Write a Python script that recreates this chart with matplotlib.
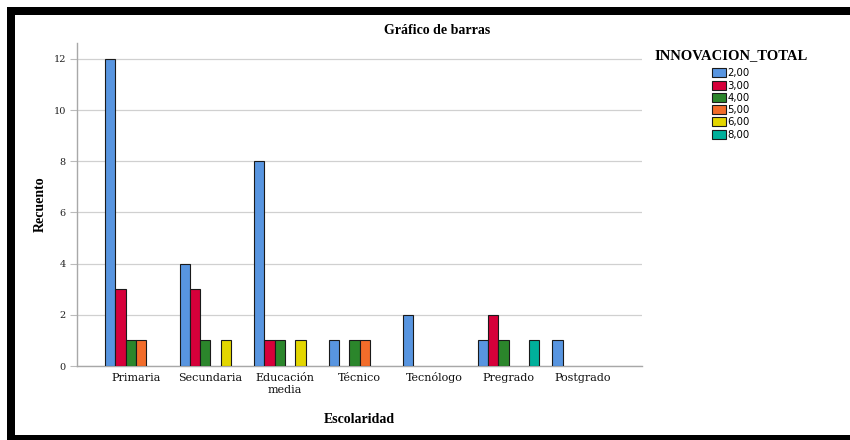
import numpy as np
import matplotlib
matplotlib.use("Agg")
import matplotlib.pyplot as plt
from matplotlib.patches import Rectangle
from matplotlib.transforms import ScaledTranslation

# data
categories = ["Primaria", "Secundaria", "Educación\nmedia", "Técnico",
              "Tecnólogo", "Pregrado", "Postgrado"]
levels = ["2,00", "3,00", "4,00", "5,00", "6,00", "8,00"]
count_2 = [12, 4, 8, 1, 2, 1, 1]
count_3 = [3, 3, 1, 0, 0, 2, 0]
count_4 = [1, 1, 1, 1, 0, 1, 0]
count_5 = [1, 0, 0, 1, 0, 0, 0]
count_6 = [0, 1, 1, 0, 0, 0, 0]
count_8 = [0, 0, 0, 0, 0, 1, 0]
y_ticks = [0, 2, 4, 6, 8, 10, 12]

colors = ["#5895E0", "#D6003A", "#2B862B", "#F26C2A", "#E3D600", "#00B09B"]

W, H = 850, 440
fig = plt.figure(figsize=(W / 100, H / 100), dpi=100)
fig.patch.set_facecolor("white")

ax = fig.add_axes([77 / W, (H - 366) / H, (642 - 77) / W, (366 - 43) / H])

serif = "DejaVu Serif"
bold_serif = "Liberation Serif"

series = [count_2, count_3, count_4, count_5, count_6, count_8]
x = np.arange(len(categories))
slot = 0.138
n = len(series)
for k, (vals, col, lab) in enumerate(zip(series, colors, levels)):
    pos = x - slot * n / 2 + slot * (k + 0.5)
    h = np.array(vals, dtype=float)
    mask = h > 0
    ax.bar(pos[mask], h[mask], width=slot, color=col, edgecolor="#1a1a1a",
           linewidth=0.8, zorder=3)
    # proxy for the legend
    ax.bar([0], [0], width=0, color=col, edgecolor="#1a1a1a",
           linewidth=0.8, label=lab)

ax.set_xlim(-0.79, len(categories) - 1 + 0.79)
ax.set_ylim(0, 12.62)
ax.set_yticks(y_ticks)
ax.set_yticklabels([str(v) for v in y_ticks], fontsize=7, family=serif,
                   color="#222222")
ax.set_xticks(x)
ax.set_xticklabels(categories, fontsize=8, family=serif, color="#111111",
                   linespacing=1.25)
ax.tick_params(axis="x", length=0, pad=11)
ax.tick_params(axis="y", length=5, width=0.8, color="#bbbbbb", pad=3)
# single-line labels sit on a shared baseline, the two-line one hangs from the top
for t in ax.get_xticklabels():
    if "\n" in t.get_text():
        t.set_verticalalignment("top")
        t.set_transform(t.get_transform() +
                        ScaledTranslation(0, 6 / 72, fig.dpi_scale_trans))
    else:
        t.set_verticalalignment("baseline")

ax.grid(axis="y", color="#d0d0d0", linewidth=0.9, zorder=0)
ax.set_axisbelow(True)
for side in ["top", "right"]:
    ax.spines[side].set_visible(False)
for side in ["left", "bottom"]:
    ax.spines[side].set_color("#a8a8a8")
    ax.spines[side].set_linewidth(1.0)

ax.set_ylabel("Recuento", fontsize=10, family=bold_serif, fontweight="bold",
              labelpad=5)
ax.set_xlabel("Escolaridad", fontsize=10, family=bold_serif,
              fontweight="bold", labelpad=13)
fig.text(437 / W, 1 - 30 / H, "Gráfico de barras", ha="center", va="center",
         fontsize=10, family=bold_serif, fontweight="bold")

leg = ax.legend(loc="upper center", bbox_to_anchor=(731 / W, 1 - 42 / H),
                bbox_transform=fig.transFigure, frameon=False,
                title="INNOVACION_TOTAL",
                title_fontproperties={"family": bold_serif, "weight": "bold",
                                      "size": 10.5},
                prop={"family": "DejaVu Sans", "size": 7.3},
                handlelength=1.35, handleheight=1.0, handletextpad=0.2,
                labelspacing=0.22, borderpad=0.2)
leg._legend_box.sep = 4.5  # a bit more room under the legend title

# black frame around the picture
frame = dict(facecolor="black", edgecolor="none", transform=fig.transFigure)
fig.patches.append(Rectangle((7 / W, 1 - 15 / H), 1 - 7 / W, 8 / H, **frame))
fig.patches.append(Rectangle((7 / W, 0), 8 / W, 1 - 7 / H, **frame))
fig.patches.append(Rectangle((7 / W, 0), 1 - 7 / W, 5 / H, **frame))

fig.savefig("out.png", dpi=100)
